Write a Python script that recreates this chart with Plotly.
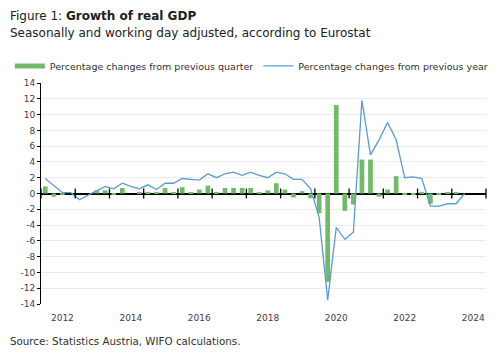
import plotly.graph_objects as go

# quarters 2012Q1 .. 2024Q2
start_year = 2012
quarter_labels = [f"{start_year + i // 4}Q{i % 4 + 1}" for i in range(50)]

qoq = [0.9, -0.4, -0.2, 0.0, 0.0, 0.0, 0.4, 0.4, -0.2, 0.7,
       0.0, 0.2, 0.2, 0.2, 0.7, 0.2, 0.8, 0.2, 0.5, 1.0,
       0.2, 0.7, 0.7, 0.7, 0.7, 0.2, 0.4, 1.3, 0.5, -0.5,
       0.3, -0.6, -2.5, -11.2, 11.2, -2.2, -1.4, 4.3, 4.3, -0.4,
       0.5, 2.2, -0.2, -0.2, 0.2, -1.3, -0.2, 0.2, 0.2, 0.0]

yoy = [1.9, 1.0, 0.1, 0.1, -0.8, -0.2, 0.4, 0.9, 0.6, 1.3,
       0.9, 0.6, 1.1, 0.5, 1.3, 1.3, 1.9, 1.8, 1.7, 2.5,
       2.0, 2.5, 2.7, 2.3, 2.7, 2.3, 2.0, 2.7, 2.5, 1.8,
       1.8, 0.6, -3.0, -13.5, -4.3, -5.8, -4.9, 11.8, 4.9, 6.8,
       9.0, 6.8, 2.0, 2.1, 1.9, -1.6, -1.6, -1.3, -1.3, 0.0]

label_years = [2012, 2014, 2016, 2018, 2020, 2022, 2024]
tick_years = list(range(2012, 2026))
y_ticks = list(range(-14, 15, 2))

name_q = "Percentage changes from previous quarter"
name_y = "Percentage changes from previous year"

green = "#72B96A"
blue = "#5B9BD5"
font_family = "DejaVu Sans"

# fractional year position of each quarter centre
xq = [start_year + (i + 0.5) / 4 for i in range(len(qoq))]

fig = go.Figure()
fig.add_trace(go.Bar(x=xq, y=qoq, marker=dict(color=green, line=dict(width=0)),
                     name=name_q, showlegend=False, hovertext=quarter_labels))
fig.add_trace(go.Scatter(x=xq, y=yoy, mode="lines", line=dict(color=blue, width=1.3),
                         name=name_y, showlegend=False, hovertext=quarter_labels))
# legend entries
fig.add_trace(go.Scatter(x=[None], y=[None], mode="lines", line=dict(color=green, width=5),
                         name=name_q, showlegend=True))
fig.add_trace(go.Scatter(x=[None], y=[None], mode="lines", line=dict(color=blue, width=1.2),
                         name=name_y, showlegend=True))
# year tick marks on the zero line
fig.add_trace(go.Scatter(x=tick_years, y=[0] * len(tick_years), mode="markers",
                         marker=dict(symbol="line-ns-open", size=7, color="black",
                                     line=dict(color="black", width=1.3)),
                         showlegend=False, hoverinfo="skip", cliponaxis=False))

fig.update_layout(
    width=502, height=359,
    margin=dict(l=33, r=24, t=75, b=63, autoexpand=False),
    plot_bgcolor="white", paper_bgcolor="white",
    font=dict(family=font_family, size=9, color="#404040"),
    bargap=0.45,
    showlegend=True,
    legend=dict(orientation="h", x=-0.07, xanchor="left", y=1.143, yanchor="top",
                font=dict(size=9.5, color="#303030"), bgcolor="rgba(0,0,0,0)",
                itemwidth=30, tracegroupgap=0),
    xaxis=dict(range=[2012, 2025], showgrid=False, zeroline=False, showline=False,
               tickvals=[y + 0.625 for y in label_years],
               ticktext=[str(y) for y in label_years],
               ticks="", ticklabelstandoff=7,
               tickfont=dict(size=9, color="#404040")),
    yaxis=dict(range=[-14, 14], tickvals=y_ticks, ticktext=[str(v) for v in y_ticks],
               showgrid=True, gridcolor="#EBEBEB", gridwidth=1,
               zeroline=True, zerolinecolor="black", zerolinewidth=1.5,
               showline=True, linecolor="black", linewidth=1,
               ticks="outside", ticklen=3, tickcolor="black", tickwidth=1,
               tickfont=dict(size=9, color="#404040")),
    annotations=[
        dict(text="Figure 1: <b>Growth of real GDP</b>", xref="paper", yref="paper",
             x=-0.0742, y=1 + (83 - 15.5) / 221, xanchor="left", yanchor="middle",
             showarrow=False, font=dict(size=12, color="#202020")),
        dict(text="Seasonally and working day adjusted, according to Eurostat",
             xref="paper", yref="paper",
             x=-0.0742, y=1 + (83 - 33) / 221, xanchor="left", yanchor="middle",
             showarrow=False, font=dict(size=12, color="#202020")),
        dict(text="Source: Statistics Austria, WIFO calculations.",
             xref="paper", yref="paper",
             x=-0.0742, y=-(341 - 304) / 221, xanchor="left", yanchor="middle",
             showarrow=False, font=dict(size=10.3, color="#303030")),
    ],
)

fig.write_html("out.html")
